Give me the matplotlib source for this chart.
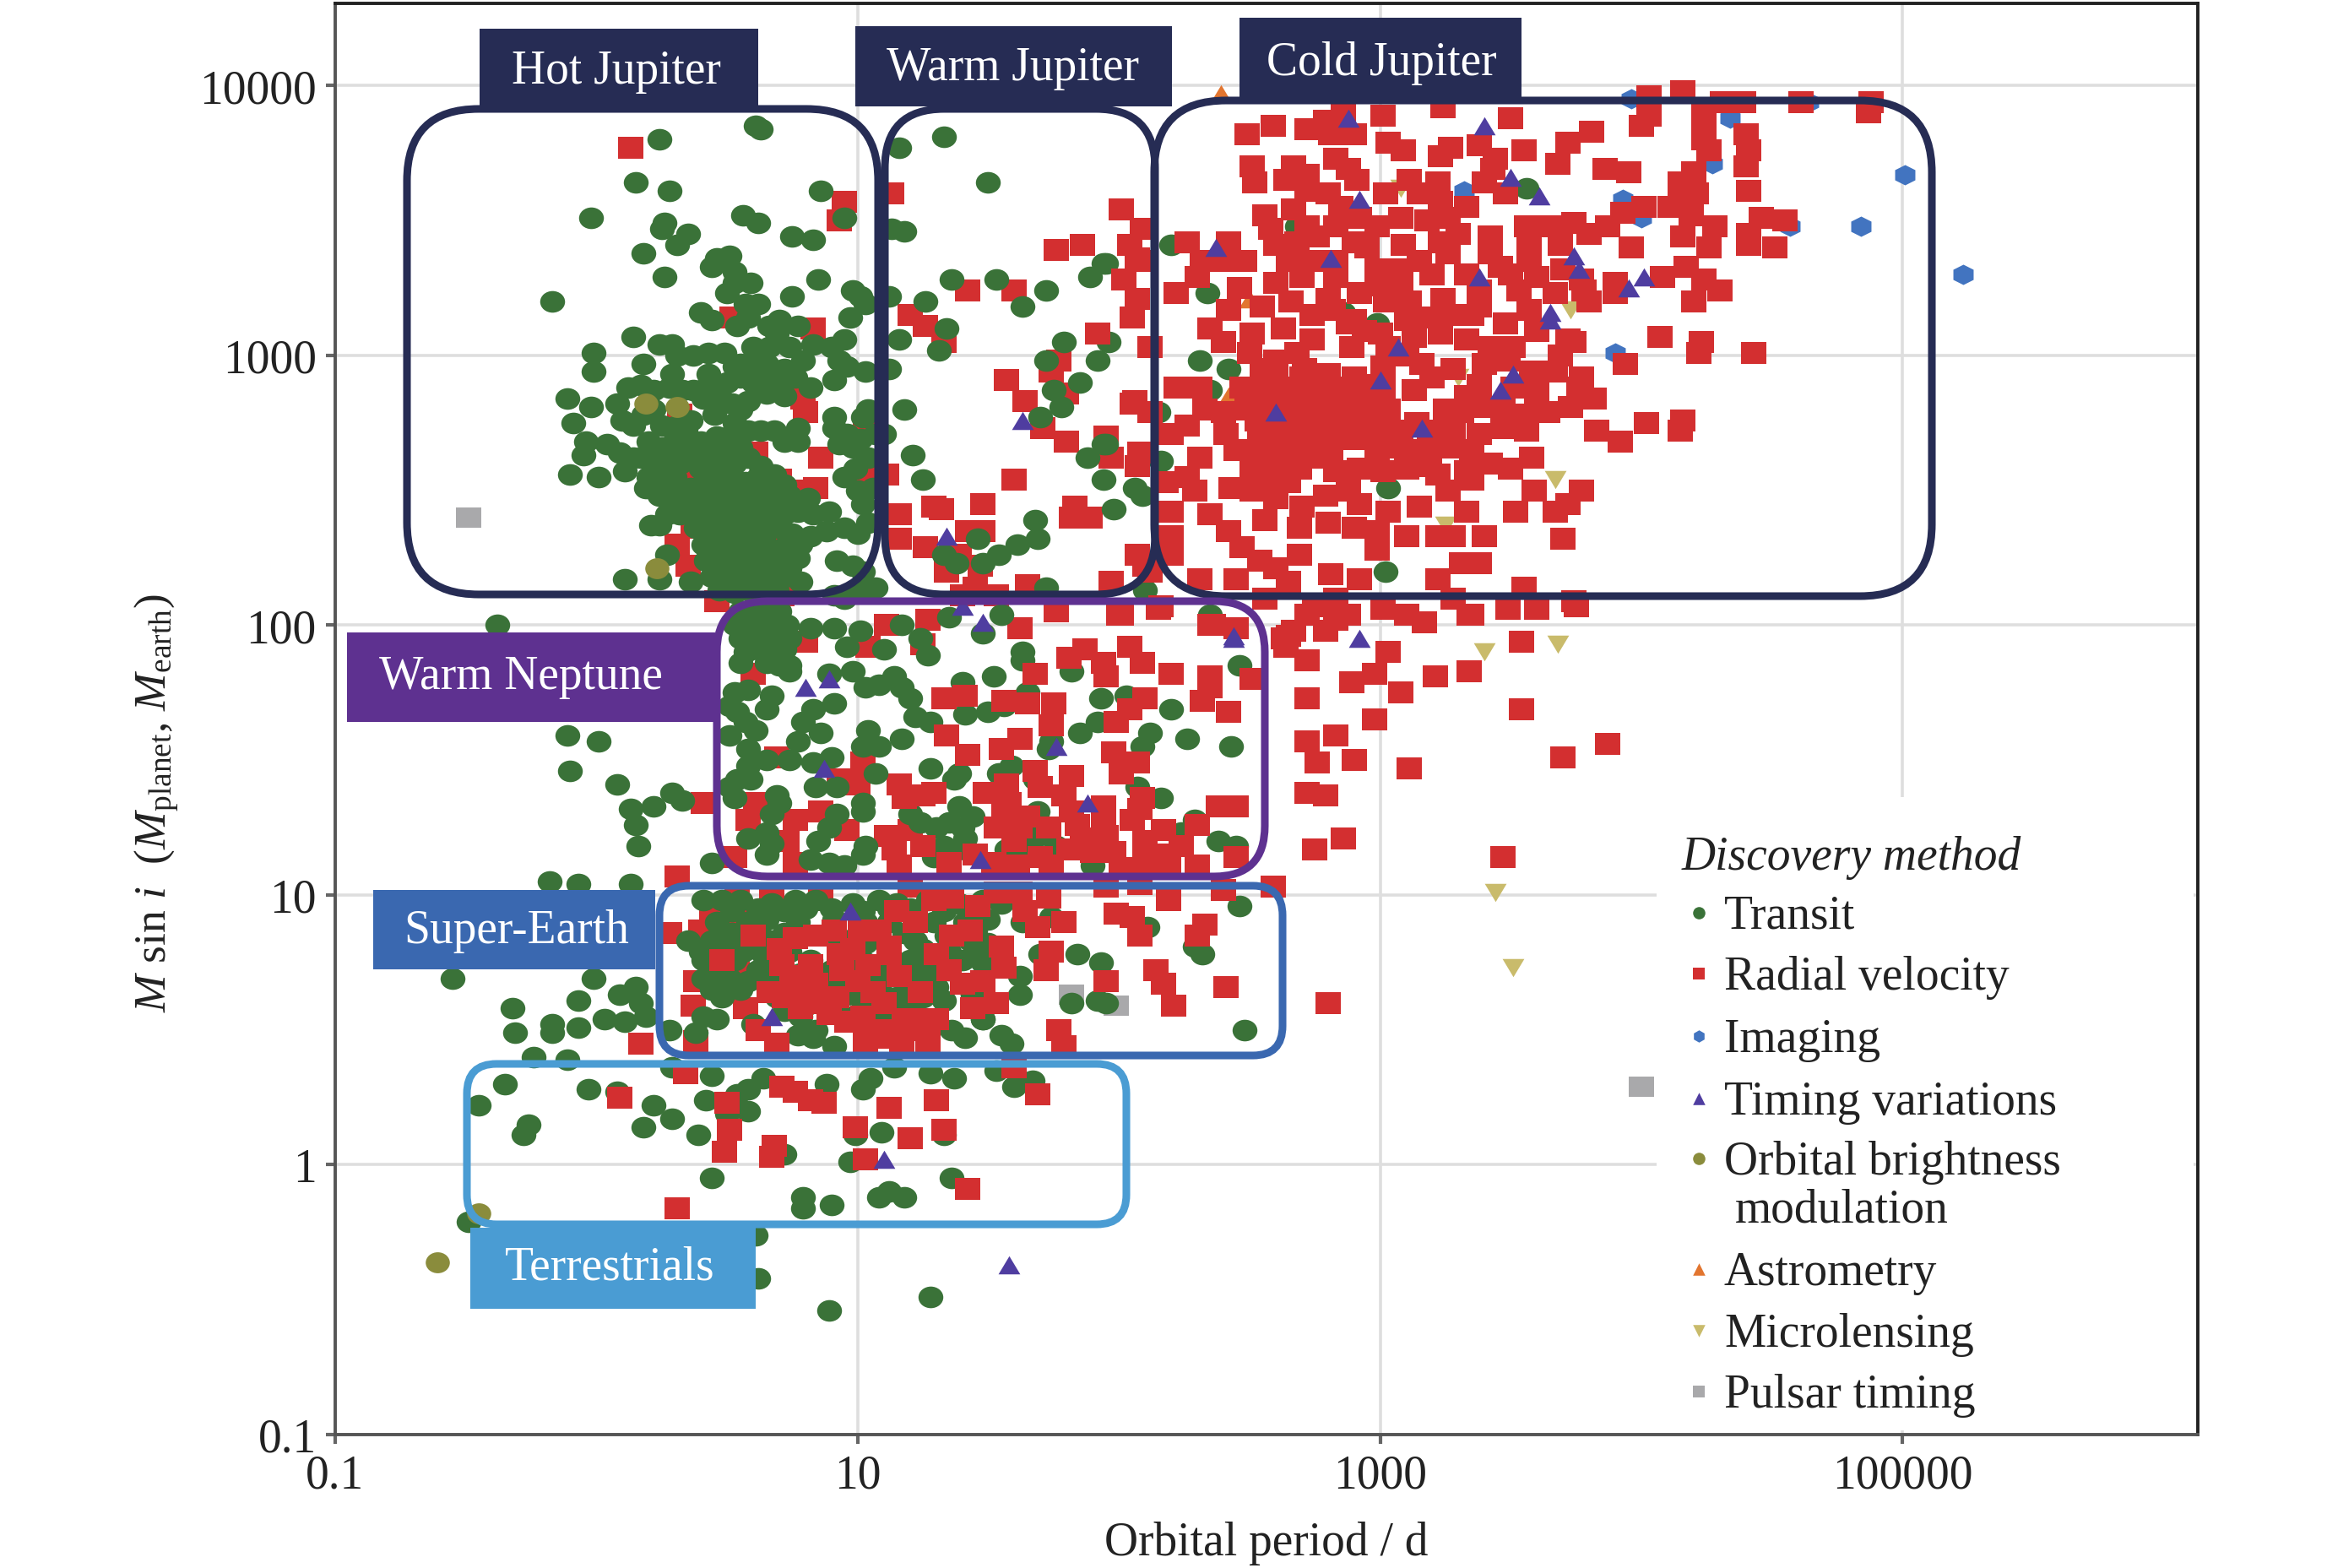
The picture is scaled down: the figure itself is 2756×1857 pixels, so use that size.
import numpy as np
import matplotlib
matplotlib.use("Agg")
from matplotlib import pyplot as plt
from matplotlib.markers import MarkerStyle
from matplotlib.patches import FancyBboxPatch, Rectangle
from matplotlib.transforms import Affine2D

plt.rcParams['font.family'] = ['Liberation Serif', 'DejaVu Serif']
plt.rcParams['mathtext.fontset'] = 'custom'
plt.rcParams['mathtext.rm'] = 'Liberation Serif'
plt.rcParams['mathtext.it'] = 'Liberation Serif:italic'

# all values below are (log10 period in d, log10 mass in earth masses)

transit_hot = [
    (0.24, 3.80), (0.61, 3.85), (0.63, 3.84), (0.15, 3.64), (0.28, 3.61), (0.86, 3.61), (0.95, 3.51), (-0.02, 3.51),
    (0.26, 3.49), (0.25, 3.47), (0.56, 3.52), (0.62, 3.49), (0.35, 3.45), (0.31, 3.41), (0.75, 3.44), (0.83, 3.43),
    (0.18, 3.38), (0.51, 3.37), (0.46, 3.36), (0.44, 3.33), (0.53, 3.31), (0.26, 3.29), (0.85, 3.28), (0.59, 3.27),
    (0.53, 3.27), (0.50, 3.23), (0.98, 3.24), (1.01, 3.22), (1.03, 3.19), (0.75, 3.22), (-0.17, 3.20), (0.62, 3.19),
    (0.57, 3.19), (0.40, 3.16), (0.44, 3.13), (0.97, 3.14), (0.58, 3.14), (0.54, 3.11), (0.70, 3.13), (0.77, 3.11),
    (0.66, 3.11), (0.14, 3.07), (0.95, 3.06), (0.24, 3.04), (0.29, 3.04), (0.69, 3.08), (0.74, 3.03), (0.83, 3.04),
    (0.90, 3.03), (-0.01, 3.01), (0.31, 3.00), (0.37, 3.00), (0.43, 3.01), (0.49, 3.01), (0.60, 3.03), (0.66, 3.03),
    (0.79, 2.98), (0.93, 2.98), (0.96, 2.96), (-0.01, 2.94), (0.18, 2.97), (1.03, 2.94), (0.43, 2.93), (0.29, 2.93),
    (0.53, 2.96), (0.58, 2.94), (0.65, 2.97), (0.72, 2.95), (0.76, 2.92), (0.91, 2.91), (0.55, 2.97), (0.62, 2.98),
    (0.12, 2.88), (0.17, 2.89), (0.22, 2.87), (0.28, 2.88), (0.33, 2.87), (0.37, 2.87), (0.43, 2.89), (0.50, 2.90),
    (0.55, 2.92), (0.60, 2.90), (0.66, 2.92), (0.71, 2.89), (0.82, 2.88), (-0.11, 2.84), (-0.02, 2.81), (-0.09, 2.75),
    (0.08, 2.82), (0.10, 2.76), (0.14, 2.74), (0.18, 2.78), (0.22, 2.80), (0.25, 2.74), (0.36, 2.76), (0.41, 2.84),
    (0.47, 2.85), (0.52, 2.82), (0.55, 2.80), (0.45, 2.78), (0.53, 2.75), (0.58, 2.83), (0.65, 2.86), (0.72, 2.85),
    (0.91, 2.77), (1.04, 2.80), (1.02, 2.77), (0.77, 2.73), (0.72, 2.68), (0.77, 2.68), (0.91, 2.73), (0.96, 2.71),
    (1.01, 2.69), (1.07, 2.71), (0.93, 2.67), (0.98, 2.66), (0.53, 2.72), (0.58, 2.72), (0.63, 2.72), (0.68, 2.72),
    (0.46, 2.70), (0.34, 2.72), (0.31, 2.74),
    (-0.04, 2.68), (-0.05, 2.63), (0.04, 2.67), (0.09, 2.64), (0.14, 2.62), (-0.10, 2.56), (0.01, 2.55), (0.11, 2.57),
    (0.19, 2.51), (0.24, 2.37), (0.21, 2.37), (0.27, 2.26), (0.11, 2.17), (0.24, 2.17), (0.36, 2.16),
    # dense knot around 3-6 d
    (0.20, 2.68), (0.25, 2.66), (0.30, 2.68), (0.35, 2.66), (0.40, 2.68), (0.45, 2.66), (0.50, 2.68), (0.55, 2.66),
    (0.17, 2.62), (0.22, 2.60), (0.27, 2.62), (0.32, 2.60), (0.38, 2.62), (0.43, 2.60), (0.48, 2.62), (0.53, 2.60),
    (0.58, 2.62), (0.63, 2.59), (0.68, 2.56), (0.20, 2.55), (0.25, 2.53), (0.30, 2.55), (0.42, 2.55), (0.47, 2.53),
    (0.52, 2.55), (0.57, 2.53), (0.62, 2.55), (0.72, 2.52), (0.24, 2.48), (0.29, 2.46), (0.34, 2.48), (0.39, 2.46),
    (0.44, 2.48), (0.49, 2.46), (0.54, 2.48), (0.59, 2.46), (0.64, 2.48), (0.69, 2.46), (0.74, 2.48), (0.81, 2.47),
    (0.27, 2.41), (0.32, 2.41), (0.37, 2.42), (0.42, 2.41), (0.47, 2.42), (0.52, 2.41), (0.57, 2.42), (0.62, 2.41),
    (0.67, 2.42), (0.72, 2.41), (0.77, 2.42), (0.83, 2.41), (0.89, 2.42), (0.38, 2.36), (0.44, 2.35), (0.49, 2.36),
    (0.54, 2.35), (0.59, 2.36), (0.64, 2.35), (0.70, 2.36), (0.75, 2.34), (0.82, 2.33), (0.88, 2.35), (0.95, 2.36),
    (0.41, 2.30), (0.46, 2.29), (0.51, 2.30), (0.56, 2.29), (0.61, 2.30), (0.72, 2.29), (0.78, 2.30), (0.42, 2.24),
    (0.47, 2.24), (0.53, 2.24), (0.58, 2.24), (0.63, 2.24), (0.70, 2.24), (0.77, 2.25), (0.92, 2.24), (0.98, 2.22),
    (1.02, 2.20), (0.44, 2.18), (0.50, 2.19), (0.55, 2.18), (0.60, 2.18), (0.66, 2.19), (0.72, 2.18), (0.78, 2.16),
    (0.47, 2.13), (0.53, 2.12), (0.58, 2.13), (0.63, 2.12), (0.69, 2.13), (1.02, 2.13), (1.07, 2.14), (0.91, 2.11),
    (0.95, 2.10), (0.99, 2.12), (1.00, 2.34), (1.04, 2.38), (1.02, 2.45), (1.06, 2.51), (1.00, 2.50), (0.95, 2.55),
    (0.99, 2.58), (1.04, 2.62),
    # gaps in the knot
    (0.36, 2.51), (0.40, 2.58), (0.45, 2.51), (0.50, 2.57), (0.55, 2.51), (0.60, 2.50), (0.66, 2.51), (0.35, 2.44),
    (0.45, 2.45), (0.55, 2.44), (0.65, 2.44), (0.41, 2.38), (0.51, 2.38), (0.61, 2.38), (0.68, 2.39), (0.45, 2.32),
    (0.54, 2.32), (0.64, 2.32), (0.68, 2.27), (0.50, 2.27), (0.60, 2.27), (0.50, 2.21), (0.57, 2.21), (0.66, 2.21),
    (0.74, 2.21), (0.55, 2.15), (0.62, 2.15), (0.30, 2.50), (0.22, 2.64), (0.28, 2.58),
]

transit_warm = [
    (1.33, 3.81), (1.16, 3.77), (1.50, 3.64), (1.18, 3.46), (1.13, 3.47), (1.36, 3.28), (1.53, 3.28), (1.72, 3.24),
    (1.63, 3.18), (1.26, 3.20), (1.12, 3.22), (1.34, 3.10), (1.16, 3.06), (1.31, 3.02), (1.79, 3.05), (1.96, 3.05),
    (1.92, 2.98), (1.89, 3.29), (1.94, 3.34), (1.72, 2.98), (1.12, 2.95), (1.85, 2.90), (1.75, 2.87), (1.78, 2.81),
    (1.70, 2.77), (1.18, 2.80), (1.10, 2.71), (1.21, 2.63), (1.25, 2.54), (1.88, 2.62), (1.94, 2.67), (1.94, 2.54),
    (2.06, 2.51), (2.09, 2.48), (1.98, 2.43), (1.68, 2.39), (1.69, 2.32), (1.61, 2.30), (1.46, 2.32), (1.54, 2.26),
    (1.48, 2.23), (1.33, 2.26), (1.38, 2.23), (1.72, 2.14), (2.10, 2.13),
    (2.20, 3.41), (1.95, 3.34), (2.34, 3.23), (2.68, 3.48), (3.56, 3.62), (2.86, 3.16), (2.99, 3.12), (2.31, 2.98),
    (2.42, 2.95), (2.35, 2.87), (2.15, 2.79), (1.95, 2.67), (2.16, 2.61), (3.03, 2.51), (3.02, 2.20), (2.35, 2.04),
]

transit_neptune = [
    (-0.38, 2.00), (0.55, 2.05), (0.60, 2.06), (0.65, 2.07), (0.70, 2.05), (0.53, 2.00), (0.58, 2.01), (0.63, 2.00),
    (0.68, 2.01), (0.73, 2.00), (0.55, 1.95), (0.60, 1.96), (0.65, 1.95), (0.70, 1.96), (0.74, 1.95), (0.57, 1.90),
    (0.62, 1.91), (0.67, 1.90), (0.72, 1.91), (0.55, 1.86), (0.65, 1.86), (0.70, 1.85), (0.74, 1.83),
    (-0.11, 1.59), (0.01, 1.57), (-0.10, 1.46), (0.08, 1.41), (0.22, 1.33), (0.29, 1.38), (0.33, 1.35), (0.13, 1.32),
    (0.15, 1.26), (0.16, 1.18), (0.44, 1.12), (-0.18, 1.05), (-0.07, 1.04), (0.13, 1.04),
    (0.82, 1.99), (0.91, 1.99), (1.01, 1.98), (1.17, 2.00), (1.35, 2.03), (1.55, 2.04), (1.48, 1.97), (0.96, 1.92),
    (1.10, 1.91), (1.24, 1.95), (1.27, 1.89), (1.63, 1.90), (1.63, 1.87), (0.74, 1.85), (0.89, 1.82), (0.98, 1.83),
    (1.03, 1.77), (1.08, 1.78), (1.14, 1.81), (1.17, 1.77), (1.20, 1.73), (1.40, 1.79), (1.52, 1.81), (1.82, 1.83),
    (1.65, 1.75), (1.93, 1.73), (2.03, 1.74), (2.46, 1.85), (0.53, 1.75), (0.58, 1.76), (0.67, 1.74), (0.51, 1.70),
    (0.54, 1.68), (0.65, 1.69), (0.57, 1.64), (0.61, 1.61), (0.51, 1.59), (0.58, 1.54), (0.83, 1.69), (0.79, 1.64),
    (0.91, 1.71), (0.86, 1.60), (0.77, 1.57), (1.04, 1.61), (1.22, 1.66), (1.28, 1.64), (1.41, 1.67), (1.50, 1.68),
    (1.56, 1.70), (2.20, 1.69), (1.92, 1.64), (1.85, 1.60), (2.12, 1.60), (2.09, 1.55), (1.74, 1.57), (1.73, 1.54),
    (2.26, 1.58), (2.43, 1.55), (1.17, 1.58), (1.02, 1.55), (1.08, 1.55), (0.90, 1.51), (0.74, 1.50), (0.83, 1.49),
    (0.58, 1.48), (0.65, 1.50), (0.54, 1.43), (0.59, 1.43), (0.51, 1.40), (0.53, 1.36), (1.28, 1.47), (1.39, 1.45),
    (1.37, 1.43), (1.59, 1.48), (1.54, 1.45), (1.68, 1.43), (1.07, 1.45), (0.84, 1.40), (0.92, 1.40), (1.02, 1.34),
    (1.02, 1.31), (0.92, 1.30), (0.69, 1.37), (0.67, 1.30), (0.70, 1.34), (2.07, 1.40), (2.16, 1.36), (2.29, 1.28),
    (2.24, 1.23), (2.38, 1.20), (2.45, 1.18),
    (1.39, 1.33), (1.44, 1.29), (1.35, 1.27), (1.40, 1.25), (1.20, 1.30), (1.24, 1.27), (1.30, 1.25), (1.41, 1.21),
    (1.33, 1.18), (1.41, 1.17), (1.29, 1.14), (1.69, 1.31), (1.69, 1.22), (1.62, 1.18), (1.57, 1.17), (1.76, 1.18),
    (1.90, 1.11), (0.89, 1.25), (0.85, 1.20), (0.65, 1.23), (0.67, 1.19), (0.65, 1.15), (1.03, 1.18), (1.02, 1.15),
    (0.82, 1.13), (0.89, 1.12), (0.95, 1.11), (1.69, 1.28), (0.58, 1.21),
]

transit_super = [
    (0.41, 0.98), (0.48, 0.98), (0.55, 0.98), (0.67, 0.97), (0.76, 0.98), (0.84, 0.98), (0.98, 0.97), (1.08, 0.98),
    (1.15, 0.97), (1.27, 0.98), (1.39, 0.97), (1.48, 0.98), (1.55, 0.97),
    (0.46, 0.90), (0.58, 0.90), (0.65, 0.91), (0.77, 0.90), (0.91, 0.91), (1.03, 0.90), (1.12, 0.90), (1.22, 0.91),
    (1.29, 0.90), (1.41, 0.90), (1.50, 0.91),
    (0.35, 0.83), (0.44, 0.83), (0.50, 0.82), (0.58, 0.83), (0.67, 0.83), (0.98, 0.83), (1.03, 0.82), (1.22, 0.83),
    (1.43, 0.83), (1.50, 0.82),
    (0.41, 0.76), (0.53, 0.76), (0.67, 0.75), (0.82, 0.76), (0.97, 0.76), (1.03, 0.75), (1.20, 0.76), (1.27, 0.75),
    (1.40, 0.76), (1.48, 0.75),
    (0.41, 0.69), (0.51, 0.69), (0.58, 0.68), (0.67, 0.69), (0.93, 0.69), (1.03, 0.68), (1.10, 0.69), (1.20, 0.68),
    (1.29, 0.69),
    (0.48, 0.62), (0.69, 0.62), (0.84, 0.62), (0.96, 0.63), (1.03, 0.62), (1.15, 0.62), (1.25, 0.62), (1.33, 0.61),
    (1.44, 0.63),
    (0.41, 0.55), (0.46, 0.54), (0.78, 0.55), (0.96, 0.55), (1.10, 0.55), (1.48, 0.54),
    (0.38, 0.49), (0.77, 0.48), (0.83, 0.47), (0.91, 0.44),
    (-0.55, 0.69), (-0.32, 0.58), (-0.31, 0.49), (-0.17, 0.52), (-0.17, 0.49), (-0.07, 0.51), (-0.07, 0.61), (-0.01, 0.69),
    (0.03, 0.54), (0.11, 0.53), (0.09, 0.63), (0.15, 0.66), (0.17, 0.60), (0.19, 0.55), (0.28, 0.50), (-0.24, 0.40),
    (-0.11, 0.39), (1.84, 0.78), (1.93, 0.75), (1.70, 0.78), (1.62, 0.70), (1.62, 0.63), (1.44, 0.63), (1.82, 0.60),
    (1.92, 0.61), (1.95, 0.60), (2.29, 0.81), (2.32, 0.78), (2.46, 0.96), (2.48, 0.50), (2.11, 0.88), (1.74, 0.92),
    (1.63, 0.90), (1.48, 0.54), (1.55, 0.48), (1.59, 0.45), (1.41, 0.47),
    # thicker middle of the super-earth box
    (0.52, 0.94), (0.62, 0.95), (0.72, 0.94), (0.80, 0.95), (0.90, 0.95), (1.02, 0.94), (1.12, 0.95), (1.20, 0.95),
    (1.33, 0.94), (1.44, 0.94), (0.52, 0.86), (0.62, 0.87), (0.72, 0.86), (0.93, 0.84), (1.18, 0.86), (1.34, 0.85),
    (1.45, 0.87), (0.40, 0.79), (0.56, 0.79), (0.64, 0.78), (0.74, 0.79), (1.00, 0.79), (1.25, 0.80), (1.35, 0.79),
    (1.45, 0.79), (0.47, 0.72), (0.62, 0.72), (0.78, 0.71), (0.90, 0.72), (1.00, 0.72), (1.07, 0.72), (1.16, 0.72),
    (1.24, 0.72), (1.35, 0.72), (0.44, 0.65), (0.55, 0.65), (0.74, 0.66), (0.90, 0.65), (0.98, 0.66), (1.08, 0.65),
    (1.19, 0.65), (1.30, 0.66), (0.72, 0.57), (0.80, 0.59), (0.92, 0.58), (1.02, 0.58), (1.20, 0.57), (0.60, 0.52),
    (0.84, 0.50), (1.36, 0.50),
]

transit_small = [
    (-0.35, 0.30), (-0.45, 0.22), (-0.26, 0.15), (-0.28, 0.11), (-0.03, 0.28), (0.08, 0.27), (0.22, 0.22), (0.29, 0.17),
    (0.18, 0.14), (0.39, 0.11), (0.42, 0.24), (0.44, 0.33), (0.29, 0.36), (0.58, 0.28), (0.54, 0.26), (0.50, 0.19),
    (0.58, 0.20), (0.64, 0.32), (0.88, 0.30), (1.02, 0.28), (1.05, 0.32), (1.14, 0.36), (1.28, 0.34), (1.37, 0.32),
    (1.53, 0.35), (1.60, 0.29), (1.67, 0.31), (0.99, 0.11), (1.09, 0.12), (1.33, 0.11), (0.72, 0.04), (0.97, 0.01),
    (0.44, -0.05), (1.36, -0.05), (0.79, -0.12), (0.79, -0.16), (0.90, -0.15), (1.08, -0.12), (1.12, -0.10), (1.18, -0.12),
    (-0.49, -0.21), (0.61, -0.26), (0.62, -0.42), (1.28, -0.49), (0.89, -0.54),
]

rv_under = [
    (0.13, 3.77), (0.95, 3.57), (0.93, 3.50), (1.13, 3.60), (0.52, 3.14), (0.83, 3.10), (0.79, 2.84), (0.80, 2.79),
    (0.32, 2.78), (1.03, 2.73), (0.86, 2.62), (0.35, 2.58), (0.61, 2.64), (0.70, 2.54), (1.03, 2.56), (1.11, 2.56),
    (0.78, 2.50), (0.84, 2.51), (0.31, 2.30), (0.35, 2.22), (0.67, 2.35), (0.66, 2.30), (0.46, 2.09), (0.71, 2.11),
    (0.73, 2.15), (0.50, 2.48), (0.53, 2.38), (0.37, 2.36), (0.48, 2.24), (0.59, 2.20),
    (1.42, 3.24), (1.60, 3.24), (1.20, 3.15), (1.26, 3.11), (1.33, 3.05), (1.76, 3.39), (1.86, 3.41), (1.57, 2.91),
    (1.77, 2.98), (1.74, 2.94), (1.64, 2.83), (1.80, 2.86), (1.71, 2.73), (1.80, 2.68), (1.95, 2.70), (1.97, 2.62),
    (1.60, 2.54), (1.16, 2.41), (1.16, 2.32), (1.26, 2.29), (1.29, 2.44), (1.32, 2.43), (1.48, 2.45), (1.42, 2.35),
    (1.48, 2.35), (1.83, 2.44), (1.82, 2.40), (1.89, 2.40), (1.39, 2.26), (1.34, 2.20), (1.47, 2.22), (1.45, 2.14),
    (1.65, 2.15), (1.40, 2.11), (1.53, 2.11), (1.97, 2.16),
    (1.27, 2.02), (1.11, 2.00), (1.62, 1.99), (1.76, 2.05), (0.80, 1.94), (1.04, 1.92), (1.25, 1.93), (0.60, 1.82),
    (1.02, 1.49), (0.69, 1.51), (0.93, 1.43), (1.00, 1.41), (1.16, 1.41), (0.41, 1.34), (0.61, 1.34), (0.86, 1.31),
    (0.76, 1.28), (0.58, 1.28), (0.96, 1.24), (0.73, 1.20), (1.11, 1.22), (1.20, 1.24), (1.14, 1.17), (0.53, 1.14),
    (0.76, 1.12), (0.31, 1.07),
    (0.28, 0.86), (0.40, 0.87), (0.44, 0.92), (0.53, 0.93), (0.58, 0.90), (0.54, 0.74), (0.63, 0.71), (0.37, 0.59),
    (0.38, 0.68), (0.38, 0.46), (0.17, 0.45), (0.57, 0.58), (0.54, 1.00), (0.67, 0.99), (0.86, 0.98), (1.20, 1.03),
]

rv_mid = [
    (2.01, 2.04), (2.16, 2.07), (2.36, 2.00), (2.45, 1.99), (2.65, 1.96), (2.64, 1.92), (1.87, 1.91), (2.04, 1.92),
    (1.81, 1.88), (1.94, 1.86), (2.09, 1.86), (1.68, 1.82), (1.95, 1.81), (2.20, 1.82), (2.35, 1.81), (2.51, 1.80),
    (2.35, 1.77), (1.33, 1.73), (1.41, 1.74), (1.65, 1.71), (1.56, 1.72), (1.75, 1.71), (1.74, 1.63), (2.42, 1.68),
    (2.32, 1.72), (2.10, 1.73), (2.04, 1.69), (1.99, 1.64), (1.34, 1.59), (1.42, 1.52), (1.62, 1.58), (1.55, 1.54),
    (1.98, 1.53), (2.07, 1.49), (2.01, 1.45), (1.25, 1.37), (1.18, 1.36), (1.29, 1.38), (1.49, 1.38), (1.57, 1.41),
    (1.68, 1.46), (1.70, 1.40), (1.82, 1.44), (1.79, 1.37), (2.09, 1.36), (2.08, 1.32), (1.94, 1.33), (2.38, 1.33),
    (2.45, 1.33), (1.56, 1.30), (1.65, 1.29), (1.53, 1.25), (1.62, 1.25), (1.73, 1.25), (1.84, 1.26), (1.94, 1.27),
    (1.86, 1.21), (1.81, 1.17), (2.10, 1.20), (2.17, 1.24), (2.30, 1.26), (1.98, 1.16), (2.10, 1.15), (2.18, 1.15),
    (2.45, 1.14), (1.16, 1.11), (1.61, 1.11), (1.74, 1.11), (2.01, 1.10), (2.10, 1.10), (2.19, 1.10),
    (1.95, 1.03), (2.08, 1.04), (2.40, 1.02), (2.59, 1.03), (1.73, 0.99), (2.19, 0.98), (1.99, 0.93), (2.05, 0.92),
    (2.08, 0.85), (2.33, 0.89), (2.30, 0.85), (1.64, 0.94), (1.69, 0.88), (1.74, 0.79), (1.72, 0.72), (1.95, 0.68),
    (2.14, 0.72), (2.17, 0.67), (2.41, 0.66), (2.21, 0.59), (1.79, 0.90), (1.53, 0.60), (1.56, 0.73), (1.55, 0.81),
    (1.44, 0.58), (1.27, 0.54), (1.30, 0.54), (1.77, 0.50), (1.79, 0.44), (1.27, 0.46), (1.05, 0.47), (1.10, 0.47),
    (1.17, 0.46), (1.03, 0.45), (0.69, 0.45), (0.71, 0.74), (0.72, 0.62), (0.84, 0.67), (0.86, 0.60), (0.96, 0.53),
    (1.10, 0.60), (1.24, 0.64), (1.43, 0.87), (1.36, 0.85), (1.46, 0.96), (1.36, 0.99), (1.29, 0.98), (1.08, 0.87),
    (1.12, 0.78), (0.84, 0.85), (0.91, 0.87), (0.93, 0.78), (0.82, 0.74), (1.12, 0.81), (1.01, 0.87), (1.53, 1.01),
    (1.62, 1.01), (0.77, 0.63), (0.89, 0.56),
    (0.34, 0.34), (0.71, 0.29), (0.76, 0.27), (0.82, 0.24), (0.87, 0.23), (0.50, 0.23), (0.09, 0.25), (0.51, 0.13),
    (0.49, 0.05), (0.68, 0.07), (0.67, 0.03), (1.12, 0.21), (1.30, 0.24), (1.69, 0.26), (0.99, 0.14), (1.20, 0.10),
    (1.33, 0.13), (1.03, 0.02), (1.42, -0.09), (0.31, -0.16), (1.60, 0.36),
    (0.60, 0.85), (0.70, 0.80), (0.76, 0.84), (0.98, 0.80), (1.04, 0.74), (1.16, 0.70), (0.75, 0.70), (0.94, 0.72),
    (1.00, 0.68), (1.06, 0.64), (0.66, 0.64), (0.78, 0.58), (0.92, 0.62), (1.02, 0.55), (1.18, 0.54), (1.14, 0.50),
    (0.62, 0.50), (1.08, 0.50), (1.22, 0.50), (1.35, 0.72), (1.30, 0.78), (1.22, 0.90), (1.15, 0.94), (1.40, 0.67),
    (1.48, 0.68), (0.48, 0.76),
    (1.45, 1.15), (1.52, 1.12), (1.60, 1.20), (1.70, 1.14), (1.90, 1.16), (1.95, 1.22), (2.05, 1.28), (2.24, 1.18),
    (2.30, 1.11), (1.25, 1.18), (1.35, 1.12), (1.82, 1.31), (1.58, 1.34),
]

rv_cold = [
    (2.01, 3.54), (2.09, 3.47), (2.04, 3.41), (2.07, 3.36), (2.02, 3.28), (2.07, 3.21), (2.05, 3.14), (1.92, 3.08),
    (2.12, 3.03), (2.05, 2.82), (2.12, 2.79), (2.08, 2.64), (2.07, 2.59), (2.07, 2.26), (2.10, 2.22), (2.08, 3.35),
    (4.03, 3.96), (4.16, 3.98), (4.39, 3.94), (4.31, 3.94), (4.61, 3.94), (4.88, 3.94), (4.87, 3.90), (4.24, 3.91),
    (4.03, 3.89), (4.00, 3.85), (4.24, 3.85), (4.24, 3.80), (4.26, 3.76), (4.40, 3.82), (4.41, 3.76), (4.40, 3.70),
    (4.20, 3.68), (4.15, 3.64), (4.21, 3.60), (4.15, 3.60), (4.41, 3.61), (4.11, 3.55), (4.19, 3.52), (4.01, 3.55),
    (3.93, 3.53), (3.87, 3.48), (4.28, 3.48), (4.16, 3.44), (4.26, 3.40), (4.17, 3.33), (4.46, 3.51), (4.55, 3.50),
    (4.41, 3.45), (4.41, 3.41), (4.51, 3.40), (3.96, 3.40), (4.08, 3.29), (4.24, 3.28), (4.30, 3.24), (4.20, 3.20),
    (3.90, 3.23), (3.90, 3.27), (4.07, 3.07), (4.23, 3.05), (4.22, 3.01), (4.43, 3.01), (3.94, 2.97), (4.16, 2.76),
    (4.15, 2.72), (4.02, 2.75), (3.83, 2.72), (3.92, 2.68), (3.82, 2.84), (3.73, 2.81), (3.64, 2.79), (3.77, 2.92),
    (3.69, 3.00), (3.74, 3.05), (3.60, 2.86),
    (2.49, 3.82), (2.59, 3.85), (2.72, 3.84), (2.81, 3.82), (2.79, 3.87), (2.90, 3.82), (3.01, 3.89), (2.86, 3.90),
    (3.24, 3.92), (3.03, 3.79), (3.09, 3.76), (3.23, 3.74), (3.27, 3.77), (3.38, 3.78), (3.50, 3.88), (3.55, 3.76),
    (3.44, 3.73), (3.43, 3.69), (3.68, 3.71), (3.72, 3.79), (3.81, 3.83), (3.86, 3.69), (3.95, 3.68), (2.51, 3.70),
    (2.52, 3.64), (2.67, 3.70), (2.64, 3.65), (2.72, 3.67), (2.83, 3.73), (2.88, 3.69), (2.91, 3.65), (2.72, 3.61),
    (2.80, 3.60), (2.67, 3.54), (2.56, 3.52), (3.11, 3.65), (3.22, 3.64), (3.15, 3.60), (3.40, 3.64), (3.48, 3.60),
    (3.23, 3.57), (3.33, 3.55), (3.08, 3.51), (3.18, 3.50), (3.26, 3.51), (2.92, 3.51), (2.83, 3.48), (2.72, 3.48),
    (2.58, 3.47), (2.99, 3.48), (3.56, 3.48), (3.65, 3.48), (3.74, 3.49), (3.80, 3.45), (3.57, 3.42), (3.69, 3.41),
    (3.42, 3.44), (3.23, 3.42), (3.09, 3.41), (2.90, 3.42), (2.60, 3.41), (2.76, 3.44), (2.42, 3.42), (2.26, 3.42),
    (3.42, 3.38), (3.46, 3.33), (3.26, 3.38), (3.57, 3.35), (3.70, 3.32), (3.33, 3.30), (3.60, 3.29), (3.77, 3.28),
    (2.48, 3.35), (2.40, 3.35), (2.32, 3.35), (2.30, 3.29), (2.22, 3.23), (2.42, 3.17),
    (2.65, 3.35), (2.74, 3.35), (2.83, 3.35), (2.60, 3.27), (2.70, 3.29), (2.83, 3.29), (2.99, 3.32), (3.08, 3.32),
    (2.99, 3.26), (3.08, 3.26), (2.92, 3.23), (3.02, 3.20), (3.11, 3.20), (2.80, 3.21), (2.74, 3.15), (2.82, 3.17),
    (3.24, 3.21), (3.38, 3.24), (3.38, 3.18), (3.28, 3.15), (3.19, 3.14), (3.10, 3.13), (3.13, 3.07), (3.23, 3.08),
    (3.33, 3.06), (3.42, 3.03), (3.51, 3.03), (3.53, 3.24), (3.57, 3.17), (3.60, 3.09), (3.72, 3.06), (3.67, 3.23),
    (3.80, 3.20), (3.78, 3.24), (2.51, 3.08), (2.50, 3.01), (2.63, 3.10), (2.68, 3.01), (2.60, 2.98), (2.71, 2.95),
    (2.74, 3.06), (2.89, 3.03), (2.94, 3.09), (3.03, 3.03), (3.10, 3.00), (3.16, 2.97), (3.01, 2.96), (3.40, 2.97),
    (3.49, 2.98), (3.58, 2.94), (3.38, 2.89), (3.67, 2.94), (3.76, 2.88), (3.51, 2.88),
    (2.47, 2.88), (2.56, 2.89), (2.65, 2.88), (2.74, 2.89), (2.83, 2.88), (2.92, 2.89), (3.01, 2.88), (3.13, 2.87),
    (2.49, 2.80), (2.58, 2.81), (2.67, 2.80), (2.76, 2.81), (2.85, 2.80), (2.94, 2.81), (3.03, 2.80), (3.31, 2.79),
    (3.39, 2.81), (3.47, 2.80), (3.56, 2.78),
    (2.54, 2.73), (2.63, 2.72), (2.72, 2.73), (2.81, 2.72), (2.90, 2.73), (2.99, 2.72), (3.19, 2.72), (3.28, 2.73),
    (3.38, 2.71), (3.47, 2.73), (3.56, 2.72),
    (2.45, 2.65), (2.54, 2.66), (2.63, 2.65), (2.72, 2.66), (2.81, 2.65), (2.99, 2.65), (3.08, 2.66), (3.17, 2.65),
    (3.26, 2.66), (3.35, 2.65), (3.58, 2.62),
    (2.51, 2.58), (2.60, 2.57), (2.69, 2.58), (2.83, 2.57), (2.92, 2.58), (3.01, 2.57), (3.10, 2.58), (3.19, 2.59),
    (3.33, 2.57),
    (2.22, 2.88), (2.31, 2.88), (2.06, 2.83), (2.33, 2.80), (2.40, 2.79), (2.26, 2.74), (2.20, 2.71), (2.41, 2.71),
    (2.31, 2.62), (2.26, 2.55), (2.29, 2.50), (2.43, 2.51), (2.51, 2.50), (2.60, 2.47), (2.18, 2.53), (2.20, 2.42),
    (2.35, 2.41), (2.56, 2.39), (2.42, 2.35), (2.20, 2.33), (2.69, 2.36), (2.79, 2.48), (2.80, 2.38), (2.92, 2.45),
    (3.03, 2.42), (2.90, 2.36), (2.99, 2.35), (3.10, 2.33), (3.22, 2.33), (3.28, 2.33), (3.40, 2.33), (3.26, 2.50),
    (3.22, 2.56), (3.35, 2.54), (3.33, 2.42), (3.59, 2.50), (3.77, 2.50), (3.72, 2.45), (3.52, 2.42), (3.67, 2.42),
    (3.70, 2.32), (3.38, 2.23), (3.31, 2.23), (2.99, 2.28), (2.47, 2.29), (2.54, 2.24), (2.60, 2.21), (2.69, 2.26),
    (2.45, 2.17), (2.31, 2.17), (2.81, 2.19), (2.92, 2.17), (3.22, 2.17), (2.20, 2.26), (2.12, 2.20), (1.97, 2.16),
    (2.56, 2.10), (2.65, 2.16), (2.00, 2.04), (2.15, 2.06), (2.35, 2.00), (2.83, 2.10), (2.72, 2.04), (2.67, 1.98),
    (3.01, 2.06), (3.10, 2.04), (3.35, 2.04), (3.49, 2.06), (3.60, 2.06), (3.55, 2.14), (3.75, 2.07), (3.28, 2.10),
    (2.79, 1.98), (2.88, 2.04),
    (3.21, 1.81), (3.34, 1.83), (3.54, 1.94), (3.49, 2.08), (3.74, 2.09), (3.08, 1.75), (2.98, 1.65), (2.83, 1.59),
    (2.90, 1.50), (2.76, 1.49), (3.11, 1.47), (3.54, 1.69), (3.70, 1.51), (3.87, 1.56), (2.72, 1.38), (2.79, 1.37),
    (2.75, 1.17), (2.86, 1.21), (3.47, 1.14), (2.80, 0.60), (2.72, 1.87), (2.89, 1.79), (3.03, 1.90), (3.17, 2.01),
    (2.72, 1.73), (2.63, 1.95), (2.75, 2.07), (2.83, 2.02), (3.34, 2.04), (2.72, 1.57), (2.98, 1.82),
    # the solid core around 300-1000 d
    (2.52, 2.84), (2.61, 2.85), (2.70, 2.84), (2.79, 2.85), (2.88, 2.84), (2.97, 2.85), (2.53, 2.76), (2.62, 2.77),
    (2.71, 2.76), (2.80, 2.77), (2.89, 2.76), (2.98, 2.77), (2.58, 2.69), (2.67, 2.69), (2.76, 2.69), (2.85, 2.69),
    (2.94, 2.69), (2.58, 2.61), (2.67, 2.61), (2.76, 2.62), (2.56, 2.54), (2.65, 2.53), (2.60, 2.93), (2.70, 2.92),
    (2.80, 2.93), (2.90, 2.92),
    (2.35, 3.10), (2.46, 3.25), (2.55, 3.18), (2.66, 3.20), (2.90, 3.13), (3.00, 3.08), (2.55, 2.95), (3.20, 2.92),
    (3.28, 2.95), (3.33, 2.85), (3.25, 2.80), (3.14, 2.75), (3.08, 2.72), (3.42, 2.60), (3.50, 2.58), (2.88, 2.50),
    (2.70, 2.44), (3.15, 2.44), (2.40, 3.05), (2.88, 3.12), (3.20, 3.30), (3.15, 3.35), (3.30, 3.45), (2.95, 3.40),
    (2.68, 3.42), (2.85, 3.55), (3.02, 3.60), (3.35, 3.15), (3.48, 3.12), (3.50, 3.30),
]

imaging = [(3.96, 3.95), (4.64, 3.94), (4.34, 3.88), (4.27, 3.71), (5.01, 3.67), (3.93, 3.58), (4.00, 3.51),
           (3.32, 3.61), (4.57, 3.48), (4.84, 3.48), (5.23, 3.30), (3.90, 3.01)]
timing = [(3.40, 3.85), (2.88, 3.88), (3.50, 3.66), (3.61, 3.59), (2.92, 3.58), (2.37, 3.40), (3.74, 3.37), (3.76, 3.32),
          (4.01, 3.29), (3.95, 3.25), (3.38, 3.29), (3.65, 3.16), (3.65, 3.13), (3.07, 3.03), (3.51, 2.93), (3.46, 2.87),
          (3.16, 2.73), (2.60, 2.79), (2.81, 3.36), (3.00, 2.91), (2.44, 1.96), (2.92, 1.95), (1.63, 2.76), (1.34, 2.33),
          (1.40, 2.07), (1.48, 2.01), (0.80, 1.77), (0.89, 1.80), (2.44, 1.95), (0.87, 1.47), (1.76, 1.55), (1.88, 1.34),
          (1.47, 1.13), (0.97, 0.94), (0.67, 0.55), (1.10, 0.02), (1.58, -0.37)]
brightness = [(0.19, 2.82), (0.31, 2.81), (0.23, 2.21), (-0.61, -0.36), (-0.45, -0.18)]
astrometry = [(2.39, 3.97), (2.50, 3.21), (2.42, 2.85)]
microlensing = [(3.08, 3.62), (3.73, 3.17), (3.30, 2.92), (3.67, 2.54), (3.25, 2.37), (3.40, 1.90), (3.68, 1.93),
                (3.44, 1.01), (3.51, 0.73)]
pulsar = [(-0.49, 2.40), (1.82, 0.63), (1.99, 0.59), (4.00, 0.29)]

x_ticks = [0.1, 10, 1000, 100000]
x_tick_labels = ['0.1', '10', '1000', '100000']
y_ticks = [0.1, 1, 10, 100, 1000, 10000]
y_tick_labels = ['0.1', '1', '10', '100', '1000', '10000']

boxes = [
    ('Hot Jupiter', (482, 130, 1040, 705), (568, 35, 898, 127), (730, 85), '#262C54', 85),
    ('Warm Jupiter', (1048, 130, 1368, 705), (1013, 32, 1388, 127), (1200, 81), '#262C54', 70),
    ('Cold Jupiter', (1367, 120, 2288, 707), (1468, 22, 1802, 116), (1636, 75), '#262C54', 85),
    ('Warm Neptune', (849, 713, 1498, 1039), (411, 750, 847, 856), (617, 802), '#5E3190', 60),
    ('Super-Earth', (781, 1050, 1519, 1251), (442, 1055, 776, 1149), (612, 1103), '#3A68B0', 35),
    ('Terrestrials', (553, 1261, 1334, 1451), (557, 1455, 895, 1551), (722, 1502), '#4A9CD3', 35),
]

legend_items = [
    ('Transit', 1082, 'o', '#3A7238'), ('Radial velocity', 1154, 's', '#D32F30'), ('Imaging', 1228, 'h', '#4274C0'),
    ('Timing variations', 1302, '^', '#4F3DA0'), ('Orbital brightness', 1373, 'o', '#8A8C3C'),
    ('Astrometry', 1504, '^', '#E2752F'), ('Microlensing', 1577, 'v', '#C9BB6B'), ('Pulsar timing', 1649, 's', '#A9A9AB'),
]

W, H = 2756, 1858
fig = plt.figure(figsize=(W / 100, H / 100), dpi=100)
ax = fig.add_axes([397 / W, 1 - 1700 / H, (2603 - 397) / W, (1700 - 5) / H])


def draw(points, marker, color, size, xs=1.2, zorder=3):
    # the source picture was stretched sideways, so markers come out wider than tall
    pts = np.array(points)
    style = MarkerStyle(marker, transform=Affine2D().scale(xs, 1))
    ax.scatter(10 ** pts[:, 0], 10 ** pts[:, 1], marker=style, color=color, s=size, linewidths=0, zorder=zorder)


draw(pulsar, 's', '#A9A9AB', 320)
draw(rv_under, 's', '#D32F30', 330)
draw(transit_hot + transit_warm + transit_neptune + transit_super + transit_small, 'o', '#3A7238', 340, xs=1.15)
draw(brightness, 'o', '#8A8C3C', 320, xs=1.15)
draw(rv_mid, 's', '#D32F30', 330)
draw(astrometry, '^', '#E2752F', 240)
draw(microlensing, 'v', '#C9BB6B', 240)
draw(imaging, 'h', '#4274C0', 300, xs=1.15)
draw(rv_cold, 's', '#D32F30', 330)
draw(timing, '^', '#4F3DA0', 240)

ax.set_xscale('log')
ax.set_yscale('log')
ax.set_xlim(0.1, 10 ** 6.13)
ax.set_ylim(0.1, 10 ** 4.305)
ax.set_xticks(x_ticks)
ax.set_xticklabels(x_tick_labels)
ax.set_yticks(y_ticks)
ax.set_yticklabels(y_tick_labels)
ax.minorticks_off()
ax.tick_params(axis='both', labelsize=40, length=8, width=3, color='#666666', labelcolor='#222222', pad=8)
ax.grid(True, color='#DEDEDE', linewidth=2.6, zorder=0)
ax.set_axisbelow(True)
for side, col in [('left', '#555555'), ('bottom', '#555555'), ('top', '#222222'), ('right', '#222222')]:
    ax.spines[side].set_color(col)
    ax.spines[side].set_linewidth(2.8)
ax.set_xlabel('Orbital period / d', fontsize=40, color='#222222', labelpad=20)
ax.set_ylabel(r'$M$ sin $i$  ($M_{\mathrm{planet}}$, $M_{\mathrm{earth}}$)', fontsize=38.5, color='#222222',
              y=(1700 - 951) / 1695, labelpad=16)

# overlay in picture pixels for the category boxes and the hand-made legend
ov = fig.add_axes([0, 0, 1, 1])
ov.set_xlim(0, W)
ov.set_ylim(H, 0)
ov.axis('off')
ov.patch.set_alpha(0)

ov.add_patch(Rectangle((1962, 945), 2598 - 1962, 1695 - 945, facecolor='white', edgecolor='none'))

for name, (x0, y0, x1, y1), (lx0, ly0, lx1, ly1), (tx, ty), col, rad in boxes:
    ov.add_patch(FancyBboxPatch((x0, y0), x1 - x0, y1 - y0, boxstyle=f'round,pad=0,rounding_size={rad}',
                                facecolor='none', edgecolor=col, linewidth=6.5))
    ov.add_patch(Rectangle((lx0, ly0), lx1 - lx0, ly1 - ly0, facecolor=col, edgecolor='none'))
    ov.text(tx, ty, name, color='white', fontsize=40, ha='center', va='center')

ov.text(1992, 1016, 'Discovery method', fontsize=40, style='italic', color='#222222', va='center')
for label, y, marker, col in legend_items:
    ov.scatter([2012], [y], marker=marker, color=col, s=110, linewidths=0)
    ov.text(2042, y + 4, label, fontsize=40, color='#222222', va='center')
ov.text(2055, 1434, 'modulation', fontsize=40, color='#222222', va='center')

fig.savefig('out.png', dpi=100)
